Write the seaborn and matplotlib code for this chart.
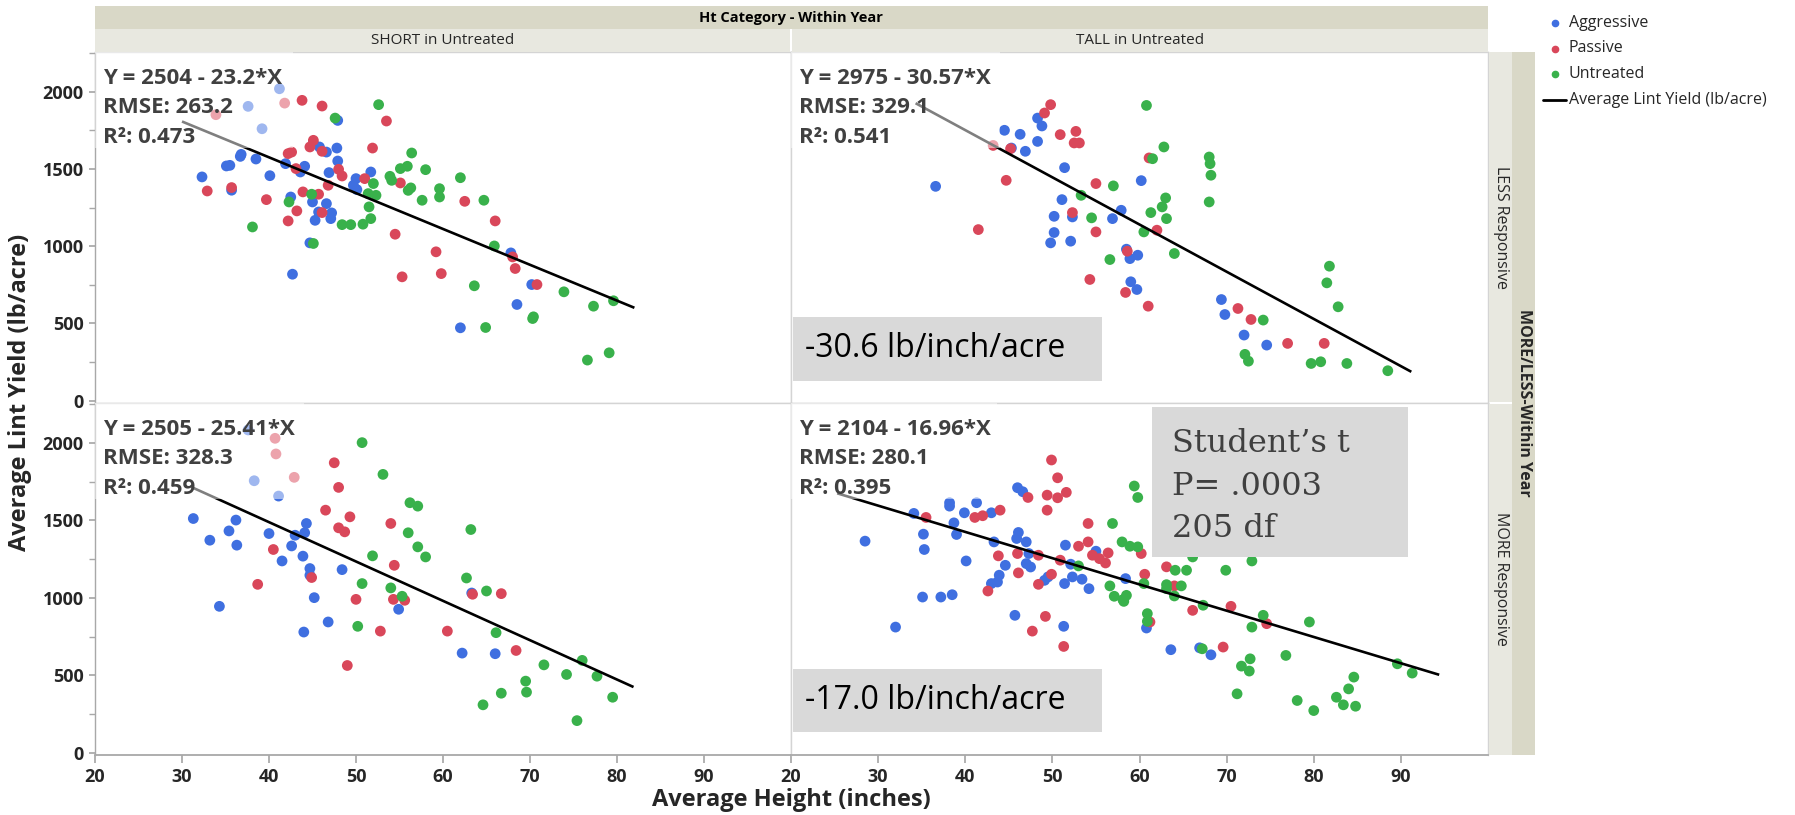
import numpy as np
import pandas as pd
import matplotlib
matplotlib.use("Agg")
import matplotlib.pyplot as plt
import seaborn as sns
from matplotlib.patches import Rectangle
from matplotlib.lines import Line2D

sns.set_theme(style="white")
plt.rcParams["font.family"] = ["Open Sans", "DejaVu Sans"]

# ---------------- data (height in inches, lint yield lb/acre) ----------------
short_less_aggressive = [(41.2,2020),(37.6,1906),(39.2,1761),(32.3,1449),(35.1,1520),(35.5,1524),(36.7,1582),(36.8,1595),
    (38.5,1565),(40.1,1457),(41.9,1535),(44.1,1518),(43.6,1481),(45.1,1669),(45.8,1643),(46.6,1610),(47.8,1636),
    (47.9,1815),(47.9,1552),(46.9,1477),(51.7,1481),(50.0,1438),(49.7,1395),(50.1,1367),(42.5,1319),(45.0,1287),
    (46.6,1276),(45.7,1222),(47.2,1216),(47.1,1179),(45.3,1168),(44.7,1022),(35.7,1363),(42.7,819),(67.8,957),
    (70.2,752),(68.5,623),(62.0,472)]
short_less_passive = [(41.8,1927),(33.9,1852),(43.8,1945),(46.1,1908),(53.5,1811),(51.9,1636),(45.1,1686),(44.7,1643),
    (46.1,1615),(42.2,1600),(42.6,1610),(43.1,1503),(48.0,1498),(48.4,1455),(51.0,1438),(46.8,1395),(55.1,1410),
    (32.9,1358),(35.7,1380),(39.7,1302),(43.9,1352),(45.7,1337),(43.2,1229),(42.2,1164),(46.1,1218),(54.5,1078),
    (59.2,964),(55.3,802),(59.8,823),(62.5,1291),(66.0,1164),(68.0,931),(68.3,856),(70.8,752)]
short_less_untreated = [(52.6,1917),(47.6,1830),(56.4,1604),(55.1,1503),(55.9,1518),(58.0,1496),(53.9,1453),(54.1,1427),
    (56.0,1362),(56.3,1378),(52.0,1406),(51.4,1341),(52.3,1330),(57.6,1298),(59.6,1373),(59.6,1319),(44.9,1337),
    (42.3,1287),(51.5,1255),(51.7,1179),(50.8,1143),(49.4,1140),(48.4,1140),(38.1,1125),(45.1,1018),(62.0,1444),
    (64.7,1298),(65.9,1002),(63.6,744),(73.9,705),(77.3,612),(79.6,647),(70.4,543),(70.3,532),(64.9,474),
    (79.1,310),(76.6,263)]

tall_less_aggressive = [(36.6,1388),(44.5,1751),(46.3,1725),(48.3,1830),(48.8,1779),(48.3,1679),(46.9,1615),(45.3,1636),
    (51.4,1509),(51.1,1302),(50.2,1194),(52.3,1190),(50.2,1089),(49.8,1022),(52.1,1033),(57.9,1233),(56.9,1179),
    (58.5,981),(58.9,920),(59.8,942),(59.0,770),(59.7,720),(60.2,1425),(69.4,655),(69.8,558),(72.0,425),(74.6,360)]
tall_less_passive = [(49.8,1917),(49.1,1863),(43.2,1653),(45.2,1632),(50.9,1723),(52.7,1744),(52.5,1669),(53.1,1669),
    (44.7,1427),(55.0,1406),(52.3,1218),(55.0,1093),(41.5,1108),(54.3,785),(58.4,701),(58.6,968),(61.1,1572),
    (62.0,1104),(61.0,612),(71.3,597),(72.8,526),(77.0,371),(81.2,371)]
tall_less_untreated = [(57.0,1391),(53.3,1330),(54.5,1184),(56.6,914),(60.5,1093),(60.8,1912),(62.8,1643),(61.5,1567),
    (68.0,1578),(68.1,1535),(68.2,1460),(68.0,1287),(63.0,1313),(62.6,1255),(63.1,1179),(61.3,1218),(64.0,953),
    (74.2,522),(81.8,871),(81.5,763),(82.8,608),(72.1,300),(72.5,256),(79.7,241),(80.8,252),(83.8,241),(88.5,194)]

short_more_aggressive = [(37.6,2084),(38.3,1756),(41.1,1657),(31.3,1512),(33.2,1372),(35.4,1432),(36.2,1502),(36.3,1340),
    (34.3,945),(40.0,1415),(41.5,1238),(42.6,1335),(43.0,1404),(44.1,1420),(44.3,1480),(43.9,1269),(44.7,1189),
    (44.7,1146),(45.2,1001),(48.4,1182),(46.8,844),(44.0,779),(54.9,926),(63.3,1031),(62.2,643),(66.0,639)]
short_more_passive = [(40.7,2030),(40.8,1929),(42.9,1778),(40.5,1312),(38.7,1087),(44.9,1131),(46.5,1566),(47.5,1872),
    (48.0,1713),(48.0,1452),(48.7,1426),(49.3,1523),(54.0,1480),(54.4,1210),(50.0,990),(54.3,990),(55.6,984),
    (52.8,785),(49.0,563),(63.4,1023),(66.7,1027),(60.5,785),(68.4,660)]
short_more_untreated = [(50.7,2002),(53.1,1797),(56.2,1614),(57.1,1592),(56.0,1420),(57.1,1329),(58.0,1264),(51.9,1271),
    (50.7,1092),(54.0,1064),(55.3,1010),(50.2,816),(63.2,1441),(62.7,1128),(65.0,1044),(66.1,775),(71.6,567),
    (74.2,505),(76.0,596),(77.7,494),(79.5,358),(69.5,462),(69.6,391),(66.7,384),(64.6,309),(75.4,207)]

tall_more_aggressive = [(28.5,1366),(32.0,811),(34.1,1545),(35.2,1411),(35.3,1312),(35.1,1005),(37.2,1005),(38.5,1020),
    (38.2,1614),(38.2,1592),(41.3,1614),(39.9,1549),(43.0,1549),(38.7,1484),(39.0,1409),(40.1,1238),(43.3,1361),
    (44.6,1210),(43.9,1146),(43.7,1102),(43.0,1092),(46.0,1711),(46.6,1685),(46.1,1422),(45.9,1383),(47.0,1361),
    (47.3,1286),(47.0,1221),(47.5,1199),(49.5,1135),(49.1,1113),(45.7,887),(51.5,1340),(52.1,1217),(51.4,1092),
    (52.3,1135),(53.4,1120),(54.2,1059),(55.0,1301),(51.3,816),(58.4,1124),(60.8,805),(63.6,665),(66.9,677),(68.2,632)]
tall_more_passive = [(49.9,1890),(50.6,1775),(51.6,1681),(50.6,1646),(49.4,1663),(49.4,1566),(47.2,1648),(44.0,1566),
    (42.0,1530),(41.1,1519),(35.5,1519),(43.8,1271),(46.0,1286),(48.4,1275),(50.9,1243),(46.1,1161),(49.9,1152),
    (48.4,1087),(42.6,1044),(49.2,880),(47.7,785),(51.3,686),(54.1,1480),(53.0,1333),(54.1,1361),(54.6,1275),
    (55.4,1253),(56.1,1225),(56.4,1290),(60.2,1286),(60.6,1152),(61.2,844),(63.1,1200),(64.0,1077),(66.1,919),
    (70.5,945),(74.6,833),(69.6,682)]
tall_more_untreated = [(56.9,1480),(58.0,1361),(58.9,1333),(59.8,1329),(59.4,1722),(59.8,1648),(53.0,1206),(56.6,1077),
    (57.1,1010),(58.1,988),(58.5,1016),(58.2,977),(60.5,1092),(60.9,898),(60.9,848),(64.1,1178),(65.4,1178),
    (63.1,1085),(63.1,1059),(64.8,1077),(64.0,1012),(66.1,1264),(67.3,952),(69.9,1178),(72.9,1238),(74.2,887),
    (72.9,811),(79.5,844),(67.2,671),(76.8,628),(71.7,559),(72.7,606),(72.6,527),(71.2,380),(78.1,337),(80.0,272),
    (82.6,358),(84.0,412),(84.6,488),(83.4,309),(84.8,300),(89.6,574),(91.3,514)]

treatments = ["Aggressive", "Passive", "Untreated"]
ht_categories = ["SHORT", "TALL"]
responses = ["LESS", "MORE"]
panel_points = {
    ("SHORT", "LESS"): [short_less_aggressive, short_less_passive, short_less_untreated],
    ("TALL", "LESS"): [tall_less_aggressive, tall_less_passive, tall_less_untreated],
    ("SHORT", "MORE"): [short_more_aggressive, short_more_passive, short_more_untreated],
    ("TALL", "MORE"): [tall_more_aggressive, tall_more_passive, tall_more_untreated],
}
# fitted lines per panel (SL, TL, SM, TM)
fit_intercept = [2504, 2975, 2505, 2104]
fit_slope = [-23.2, -30.57, -25.41, -16.96]
fit_xmin = [30.0, 34.3, 30.9, 25.3]
fit_xmax = [82.0, 91.2, 81.9, 94.4]
fit_rmse = [263.2, 329.1, 328.3, 280.1]
fit_r2 = [0.473, 0.541, 0.459, 0.395]
slope_notes = {("TALL", "LESS"): "-30.6 lb/inch/acre", ("TALL", "MORE"): "-17.0 lb/inch/acre"}
ttest_lines = ["Student\u2019s t", "P= .0003", "205 df"]
x_ticks = [20, 30, 40, 50, 60, 70, 80, 90]
y_ticks = [0, 500, 1000, 1500, 2000]

rows = []
for (ht, resp), groups in panel_points.items():
    for trt, pts in zip(treatments, groups):
        for x, y in pts:
            rows.append({"ht": ht, "resp": resp, "trt": trt, "height": x, "lint": y})
df = pd.DataFrame(rows)

palette = {"Aggressive": "#3f6fe0", "Passive": "#d9475a", "Untreated": "#39b14b"}

# ---------------- layout ----------------
W, H = 1795, 815
fig = plt.figure(figsize=(W / 100, H / 100), dpi=100)
fig.patch.set_facecolor("white")

def fr(x0, y0, x1, y1):
    return [x0 / W, 1 - y1 / H, (x1 - x0) / W, (y1 - y0) / H]

col_px = {"SHORT": (95, 791), "TALL": (791, 1488)}
row_px = {"LESS": (52, 403), "MORE": (403, 755)}
fade_w = [0.285, 0.30, 0.30, 0.295]

grid_line = "#d4d4d4"
axis_line = "#a8a8a8"

for i, (resp, ht) in enumerate([(r, h) for r in responses for h in ht_categories]):
    x0, x1 = col_px[ht]
    y0, y1 = row_px[resp]
    ax = fig.add_axes(fr(x0, y0, x1, y1))
    sub = df[(df.ht == ht) & (df.resp == resp)]
    sns.scatterplot(data=sub, x="height", y="lint", hue="trt", hue_order=treatments,
                    palette=palette, s=60, linewidth=0, legend=False, ax=ax, zorder=2)
    xr = np.array([fit_xmin[i], fit_xmax[i]])
    ax.plot(xr, fit_intercept[i] + fit_slope[i] * xr, color="black", lw=1.9, zorder=3,
            solid_capstyle="butt")
    ax.set_xlim(20, 100)
    ax.set_ylim(-15, 2258)
    ax.set_xlabel("")
    ax.set_ylabel("")
    ax.set_xticks(x_ticks)
    ax.set_yticks(y_ticks)
    ax.set_yticks(np.arange(0, 2251, 250), minor=True)
    for sp in ax.spines.values():
        sp.set_color(grid_line)
        sp.set_linewidth(1.0)
    left_col = ht == "SHORT"
    bottom_row = resp == "MORE"
    if left_col:
        ax.spines["left"].set_color(axis_line)
        ax.tick_params(axis="y", which="both", left=True, direction="out", length=4,
                       color=axis_line, labelsize=13, pad=4)
        ax.tick_params(axis="y", which="minor", labelleft=False)
        for t in ax.get_yticklabels():
            t.set_fontweight("bold")
    else:
        ax.tick_params(axis="y", which="both", left=False, labelleft=False)
    if bottom_row:
        ax.spines["bottom"].set_color(axis_line)
        ax.spines["bottom"].set_linewidth(1.3)
        ax.tick_params(axis="x", bottom=True, direction="out", length=6, color=axis_line,
                       labelsize=13, pad=3)
        for t in ax.get_xticklabels():
            t.set_fontweight("bold")
    else:
        ax.tick_params(axis="x", bottom=False, labelbottom=False)

    # faded box behind equation text
    ax.add_patch(Rectangle((0, 0.726), fade_w[i], 0.274, transform=ax.transAxes,
                           facecolor="white", alpha=0.5, edgecolor="none", zorder=4))
    eq = f"Y = {fit_intercept[i]:g} - {abs(fit_slope[i]):g}*X"
    lines = [eq, f"RMSE: {fit_rmse[i]:.1f}", f"R\u00b2: {fit_r2[i]:.3f}"]
    for k, s in enumerate(lines):
        ax.text(0.012, 0.910 - k * 0.0845, s, transform=ax.transAxes, ha="left", va="baseline",
                fontsize=16, fontweight="bold", color="#404040", zorder=5)

    if (ht, resp) in slope_notes:
        ax.add_patch(Rectangle((0.003, 0.064), 0.443, 0.181, transform=ax.transAxes,
                               facecolor="#d9d9d9", edgecolor="none", zorder=6))
        ax.text(0.020, 0.154, slope_notes[(ht, resp)], transform=ax.transAxes, ha="left",
                va="center", fontsize=23, color="black", zorder=7)
    if (ht, resp) == ("TALL", "MORE"):
        ax.add_patch(Rectangle((0.518, 0.5625), 0.367, 0.4265, transform=ax.transAxes,
                               facecolor="#d9d9d9", edgecolor="none", zorder=6))
        for k, s in enumerate(ttest_lines):
            ax.text(0.547, 0.862 - k * 0.122, s, transform=ax.transAxes, ha="left",
                    va="baseline", fontsize=23, color="#404040", family="DejaVu Serif", zorder=7)

# ---------------- strips ----------------
def frect(x0, y0, x1, y1, fc):
    fig.add_artist(Rectangle((x0 / W, 1 - y1 / H), (x1 - x0) / W, (y1 - y0) / H,
                             transform=fig.transFigure, facecolor=fc, edgecolor="none"))

dark_strip = "#d9d8c7"
light_strip = "#e8e8e0"
frect(95, 6, 1488, 29, dark_strip)
frect(95, 29, 790, 52, light_strip)
frect(792, 29, 1488, 52, light_strip)
frect(1489, 52, 1512, 402, light_strip)
frect(1489, 404, 1512, 755, light_strip)
frect(1512, 52, 1535, 755, dark_strip)

fig.text(791 / W, 1 - 18 / H, "Ht Category - Within Year", ha="center", va="center",
         fontsize=10.5, fontweight="bold", color="black")
fig.text(443 / W, 1 - 41 / H, "SHORT in Untreated", ha="center", va="center", fontsize=11)
fig.text(1140 / W, 1 - 41 / H, "TALL in Untreated", ha="center", va="center", fontsize=11)
fig.text(1501 / W, 1 - 228 / H, "LESS Responsive", ha="center", va="center", fontsize=11.5,
         rotation=-90)
fig.text(1501 / W, 1 - 579 / H, "MORE Responsive", ha="center", va="center", fontsize=11.5,
         rotation=-90)
fig.text(1524 / W, 1 - 403 / H, "MORE/LESS-Within Year", ha="center", va="center",
         fontsize=11.5, fontweight="bold", rotation=-90)

# axis titles
fig.text(20 / W, 1 - 392 / H, "Average Lint Yield (lb/acre)", ha="center", va="center",
         rotation=90, fontsize=17, fontweight="bold")
fig.text(791 / W, 1 - 800 / H, "Average Height (inches)", ha="center", va="center",
         fontsize=17, fontweight="bold")

# ---------------- legend ----------------
leg_y = [23, 48.5, 74, 100]
for k, trt in enumerate(treatments):
    fig.add_artist(Line2D([1555 / W], [1 - leg_y[k] / H], marker="o", markersize=4.5,
                          color=palette[trt], linestyle="", transform=fig.transFigure))
    fig.text(1569 / W, 1 - leg_y[k] / H, trt, ha="left", va="center", fontsize=11.5)
fig.add_artist(Line2D([1543 / W, 1566 / W], [1 - leg_y[3] / H] * 2, color="black", lw=2,
                      transform=fig.transFigure))
fig.text(1569 / W, 1 - leg_y[3] / H, "Average Lint Yield (lb/acre)", ha="left", va="center",
         fontsize=11.5)

fig.savefig("out.png", dpi=100, facecolor="white")
